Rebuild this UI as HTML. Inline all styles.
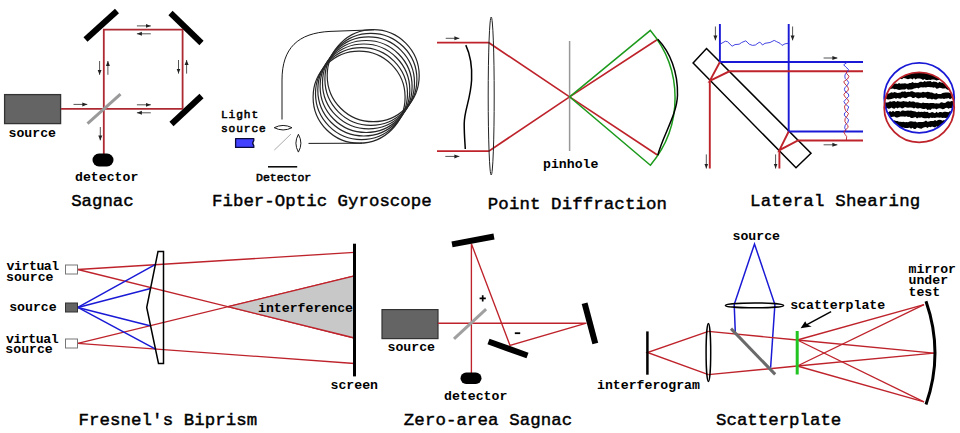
<!DOCTYPE html>
<html><head><meta charset="utf-8"><style>
html,body{margin:0;padding:0;background:#fff;width:960px;height:433px;overflow:hidden}
svg{display:block}
.t{font-family:"Liberation Mono",monospace;font-size:17.4px;fill:#000;stroke:#000;stroke-width:0.45px}
.l{font-family:"Liberation Mono",monospace;font-size:13.2px;font-weight:bold;fill:#000}
.s{font-family:"Liberation Mono",monospace;font-weight:normal;fill:#000;stroke:#000;stroke-width:0.55px}
.r{stroke:#be232b;stroke-width:1.35;fill:none}
.b{stroke:#1a1ad6;stroke-width:1.5;fill:none}
.m{stroke:#000;stroke-width:6;fill:none}
.ar{stroke:#555;stroke-width:1;fill:none}
</style></head><body>
<svg width="960" height="433" viewBox="0 0 960 433">
<defs>
<marker id="ah" viewBox="0 0 10 10" refX="10" refY="5" markerWidth="5" markerHeight="5" orient="auto-start-reverse" markerUnits="userSpaceOnUse">
<path d="M0,1 L10,5 L0,9 z" fill="#222"/></marker>
</defs>

<!-- ============ SAGNAC ============ -->
<g id="sagnac">
<rect x="4.6" y="94.6" width="56" height="29" fill="#646464" stroke="#333" stroke-width="1.3"/>
<path class="r" style="stroke-width:1.8;stroke:#ad2a33" d="M61,108.9 H182.6 V29.6 H103.8 V160"/>
<line x1="87.5" y1="123.6" x2="120.5" y2="94.2" stroke="#9a9a9a" stroke-width="3"/>
<line class="m" x1="85.5" y1="39.5" x2="117" y2="11"/>
<line class="m" x1="170.5" y1="13" x2="201.5" y2="43"/>
<line class="m" x1="201.5" y1="96" x2="171.5" y2="124"/>
<rect x="92.5" y="153.5" width="21" height="13" rx="6.5" fill="#000"/>
<!-- arrows -->
<line class="ar" x1="73.5" y1="104.4" x2="87.3" y2="104.4" marker-end="url(#ah)"/>
<line class="ar" x1="136.9" y1="25.9" x2="150.8" y2="25.9" marker-end="url(#ah)"/>
<line class="ar" x1="150.8" y1="33.8" x2="136.9" y2="33.8" marker-end="url(#ah)"/>
<line class="ar" x1="136.9" y1="104.8" x2="150.8" y2="104.8" marker-end="url(#ah)"/>
<line class="ar" x1="150.8" y1="112.8" x2="136.9" y2="112.8" marker-end="url(#ah)"/>
<line class="ar" x1="99.6" y1="61" x2="99.6" y2="74.8" marker-end="url(#ah)"/>
<line class="ar" x1="107.9" y1="74.8" x2="107.9" y2="61" marker-end="url(#ah)"/>
<line class="ar" x1="178.5" y1="60" x2="178.5" y2="73.6" marker-end="url(#ah)"/>
<line class="ar" x1="186.6" y1="73.6" x2="186.6" y2="60" marker-end="url(#ah)"/>
<line class="ar" x1="100.3" y1="127" x2="100.3" y2="140.4" marker-end="url(#ah)"/>
<text class="l" transform="translate(8.5,136.8) scale(1,1.0)">source</text>
<text class="l" transform="translate(75,181.2) scale(1,1.0)">detector</text>
<text class="t" x="71.2" y="206.3" textLength="62.5">Sagnac</text>
</g>

<!-- ============ FIBER OPTIC GYRO ============ -->
<g id="fog" fill="none" stroke="#1a1a1a" stroke-width="1">
<path d="M282,119.5 V80 C282,48 298,33 330,31.4 L374,29.8"/>
<line x1="308.5" y1="143.4" x2="362" y2="143.2"/>
<g id="coil" stroke="#262626" stroke-width="1.2">
<circle cx="359.1" cy="97.2" r="46"/>
<circle cx="361.5" cy="93.6" r="46"/>
<circle cx="363.8" cy="90.0" r="46"/>
<circle cx="366.1" cy="86.5" r="46"/>
<circle cx="368.5" cy="82.9" r="46"/>
<circle cx="370.9" cy="79.3" r="46"/>
<circle cx="373.2" cy="75.7" r="46"/>
</g>
<path d="M274.2,127.7 Q283.1,123.2 292,127.7 Q283.1,132.2 274.2,127.7 Z"/>
<path d="M298.4,134.3 Q303.4,143.2 298.4,152.1 Q293.4,143.2 298.4,134.3 Z"/>
<line x1="274.3" y1="150.1" x2="290.9" y2="134.1" stroke="#aaa"/>
<line x1="268" y1="166.8" x2="297.2" y2="166.8" stroke="#000" stroke-width="1.5"/>
</g>
<path d="M235.6,138.6 H253.8 V140.6 Q251.6,143 253.8,145.6 V147.4 H235.6 Z" fill="#4141ff" stroke="#0a0a3c" stroke-width="1.3" stroke-linejoin="round"/>
<text class="s" transform="translate(221,118.4) scale(1,0.95)" style="font-size:11.2px;letter-spacing:0.9px">Light</text>
<text class="s" transform="translate(221,131.7) scale(1,1)" style="font-size:11.2px;letter-spacing:0.9px">source</text>
<text class="s" transform="translate(256,181.3) scale(1,1)" style="font-size:11.5px">Detector</text>
<text class="t" x="212" y="206.3" textLength="219.7">Fiber-Optic Gyroscope</text>

<!-- ============ POINT DIFFRACTION ============ -->
<g id="pd">
<path class="r" style="stroke-width:1.7" d="M437,42.7 H488.8 L569.6,96.9 L657.8,155.2"/>
<path class="r" style="stroke-width:1.7" d="M437,151.1 H488.8 L569.6,96.9 L657.8,39.3"/>
<ellipse cx="491.2" cy="96" rx="3" ry="79" fill="none" stroke="#222" stroke-width="1"/>
<path d="M465.8,45.1 C470,54 472.3,66 471.6,80 C470.5,100 464.2,110 464.2,124 C464.2,135 465,143 465.3,149" fill="none" stroke="#000" stroke-width="1.5"/>
<line x1="569.6" y1="41" x2="569.6" y2="151" stroke="#999" stroke-width="1.5"/>
<path d="M569.6,96.8 L650.4,30.4 A104.4,104.4 0 0 1 650.4,165.2 Z" fill="none" stroke="#1c9a1c" stroke-width="1.5"/>
<path d="M657.8,39.3 C670,52 678,72 677.5,95 C677,115 663,135 657.8,155.2" fill="none" stroke="#000" stroke-width="1.5"/>
<line class="ar" x1="445.7" y1="38.3" x2="459.4" y2="38.3" marker-end="url(#ah)"/>
<line class="ar" x1="445.3" y1="156.4" x2="459.4" y2="156.4" marker-end="url(#ah)"/>
<text class="l" transform="translate(543,168.4) scale(1,1.0)">pinhole</text>
<text class="t" x="487.8" y="209.3" textLength="179.2">Point Diffraction</text>
</g>

<!-- ============ LATERAL SHEARING ============ -->
<g id="ls">
<polygon points="706.5,48.5 811,153.3 796,167.8 693.1,63" fill="none" stroke="#000" stroke-width="1.5"/>
<path class="b" style="stroke-width:1.9" d="M719.9,24 V62 H863"/>
<path class="b" style="stroke-width:1.9" d="M788.7,24 V131.5 H863"/>
<path class="r" style="stroke-width:1.9" d="M719.9,62 L709.8,80.9 L729.4,71.3 H863 M709.8,80.9 V168.5"/>
<path class="r" style="stroke-width:1.9" d="M788.7,131.5 L779.4,150.2 L798,140.5 H863 M779.4,150.2 V168.5"/>
<path d="M720.0,44.2 L725.4,41.2 L727.5,41.7 L732.1,46.2 L735.0,44.6 L739.2,44.2 L741.7,42.5 L745.8,40.8 L749.2,44.2 L752.5,45.4 L755.4,45.0 L759.2,42.3 L760.4,42.5 L762.5,45.0 L765.0,43.3 L770.0,42.5 L774.2,40.4 L776.7,41.7 L780.0,43.3 L782.1,45.4 L785.0,43.8 L788.3,43.3" fill="none" stroke="#3030e0" stroke-width="0.9"/>
<path d="M847.2,62.3 L843.7,64.8 L845.9,67.1 L848.5,69.5 L847.7,71.4 L845.4,74.1 L844.8,76.1 L845.2,78.4 L847.4,80.6 L848.7,82.6 L847.3,85.3 L844.8,87.8 L844.4,89.7 L845.7,92.0 L848.4,93.9 L848.8,96.2 L846.3,98.8 L843.9,101.6 L845.4,104.2 L848.8,106.9 L847.9,108.8 L847.3,110.8 L844.6,113.0 L844.3,115.1 L846.1,117.3 L848.6,119.7 L847.8,122.4 L845.2,125.1 L844.7,127.9 L846.3,131.5" fill="none" stroke="#3030e0" stroke-width="0.9"/>
<path d="M846.3,71.2 L846.7,73.7 L849.0,76.2 L847.5,79.0 L843.7,81.7 L845.0,84.0 L847.3,86.4 L848.4,88.3 L848.2,90.4 L845.0,92.8 L843.8,94.8 L845.5,97.5 L847.8,99.4 L848.7,101.4 L847.1,103.3 L844.6,106.0 L844.7,108.0 L845.6,110.7 L848.5,113.4 L847.3,115.9 L845.1,118.7 L844.9,121.4 L846.1,123.5 L847.7,125.5 L848.2,127.3 L845.6,129.8 L843.9,132.2 L845.0,134.3 L846.7,136.6 L846.3,140.2" fill="none" stroke="#be232b" stroke-width="0.9"/>
<line class="ar" x1="715.4" y1="26.5" x2="715.4" y2="40.4" marker-end="url(#ah)"/>
<line class="ar" x1="792.6" y1="26.5" x2="792.6" y2="40.4" marker-end="url(#ah)"/>
<line class="ar" x1="706.3" y1="154.4" x2="706.3" y2="168.5" marker-end="url(#ah)"/>
<line class="ar" x1="775.6" y1="154.4" x2="775.6" y2="168.5" marker-end="url(#ah)"/>
<line class="ar" x1="823.6" y1="58" x2="837.4" y2="58" marker-end="url(#ah)"/>
<line class="ar" x1="823.6" y1="144.8" x2="837.4" y2="144.8" marker-end="url(#ah)"/>
<clipPath id="lens"><circle cx="919.2" cy="97.8" r="35"/></clipPath>
<g clip-path="url(#lens)">
<clipPath id="lens2"><circle cx="919.2" cy="107.4" r="35"/></clipPath>
<g clip-path="url(#lens2)"><path fill="#000" d="M884.0,70.0L885.5,70.0L887.0,70.0L888.5,70.0L890.0,70.0L891.5,70.0L893.0,70.0L894.5,70.0L896.0,70.0L897.5,70.0L899.0,70.0L900.5,70.0L902.0,70.0L903.5,70.0L905.0,70.0L906.5,70.0L908.0,70.0L909.5,70.0L911.0,70.0L912.5,70.0L914.0,70.0L915.5,70.0L917.0,70.0L918.5,70.0L920.0,70.0L921.5,70.0L923.0,70.0L924.5,70.0L926.0,70.0L927.5,70.0L929.0,70.0L930.5,70.0L932.0,70.0L933.5,70.0L935.0,70.0L936.5,70.0L938.0,70.0L939.5,70.0L941.0,70.0L942.5,70.0L944.0,70.0L945.5,70.0L947.0,70.0L948.5,70.0L950.0,70.0L951.5,70.0L953.0,70.0L954.5,70.0L956.0,70.0L956.0,78.6L954.5,79.4L953.0,79.8L951.5,79.4L950.0,79.6L948.5,79.2L947.0,80.0L945.5,80.3L944.0,79.6L942.5,79.9L941.0,80.2L939.5,79.9L938.0,80.1L936.5,80.5L935.0,79.7L933.5,79.5L932.0,79.4L930.5,80.1L929.0,79.7L927.5,80.1L926.0,79.9L924.5,79.1L923.0,80.0L921.5,79.0L920.0,78.6L918.5,78.5L917.0,78.6L915.5,79.4L914.0,78.0L912.5,79.5L911.0,78.5L909.5,78.7L908.0,79.3L906.5,78.8L905.0,78.2L903.5,78.1L902.0,79.3L900.5,78.7L899.0,78.3L897.5,78.4L896.0,79.1L894.5,78.6L893.0,79.5L891.5,78.9L890.0,79.5L888.5,79.9L887.0,79.3L885.5,80.3L884.0,79.6ZM884.0,81.9L885.5,82.5L887.0,83.2L888.5,82.3L890.0,83.0L891.5,82.4L893.0,83.5L894.5,83.7L896.0,83.5L897.5,84.0L899.0,83.1L900.5,83.7L902.0,83.5L903.5,83.4L905.0,83.2L906.5,83.7L908.0,83.8L909.5,82.9L911.0,83.1L912.5,82.0L914.0,82.9L915.5,82.7L917.0,83.1L918.5,82.7L920.0,81.7L921.5,81.8L923.0,82.2L924.5,81.1L926.0,81.8L927.5,81.3L929.0,81.2L930.5,81.1L932.0,82.3L933.5,81.4L935.0,81.7L936.5,82.0L938.0,82.9L939.5,81.7L941.0,82.5L942.5,82.8L944.0,83.4L945.5,83.4L947.0,83.6L948.5,82.8L950.0,83.1L951.5,83.1L953.0,84.0L954.5,84.1L956.0,82.8L956.0,89.1L954.5,88.8L953.0,88.7L951.5,89.3L950.0,89.2L948.5,89.9L947.0,89.6L945.5,88.3L944.0,88.6L942.5,88.4L941.0,88.1L939.5,87.8L938.0,88.5L936.5,88.8L935.0,87.3L933.5,87.7L932.0,87.3L930.5,87.3L929.0,87.0L927.5,87.1L926.0,87.6L924.5,87.3L923.0,87.4L921.5,87.3L920.0,87.4L918.5,88.4L917.0,87.7L915.5,88.3L914.0,88.4L912.5,89.2L911.0,89.4L909.5,89.4L908.0,89.7L906.5,88.4L905.0,89.5L903.5,89.5L902.0,89.4L900.5,89.7L899.0,90.1L897.5,89.5L896.0,89.1L894.5,89.2L893.0,88.4L891.5,88.7L890.0,89.2L888.5,88.9L887.0,88.3L885.5,88.2L884.0,88.0ZM884.0,93.7L885.5,92.6L887.0,92.4L888.5,93.8L890.0,93.0L891.5,92.3L893.0,92.8L894.5,91.9L896.0,92.6L897.5,93.1L899.0,92.8L900.5,92.4L902.0,91.6L903.5,91.7L905.0,91.3L906.5,92.2L908.0,91.7L909.5,92.1L911.0,91.3L912.5,91.2L914.0,92.1L915.5,92.5L917.0,92.3L918.5,92.3L920.0,92.4L921.5,92.4L923.0,91.7L924.5,92.3L926.0,92.2L927.5,91.8L929.0,91.9L930.5,92.5L932.0,92.5L933.5,93.3L935.0,93.8L936.5,93.1L938.0,93.9L939.5,94.0L941.0,93.9L942.5,92.9L944.0,92.7L945.5,92.6L947.0,92.5L948.5,92.4L950.0,92.9L951.5,93.2L953.0,93.0L954.5,92.3L956.0,92.5L956.0,98.7L954.5,98.3L953.0,98.2L951.5,98.2L950.0,99.2L948.5,98.1L947.0,98.6L945.5,98.5L944.0,99.0L942.5,98.5L941.0,98.7L939.5,98.6L938.0,98.5L936.5,99.5L935.0,99.5L933.5,98.7L932.0,99.4L930.5,98.7L929.0,98.7L927.5,99.1L926.0,97.5L924.5,97.5L923.0,98.1L921.5,97.6L920.0,98.0L918.5,98.4L917.0,98.1L915.5,96.9L914.0,97.9L912.5,98.1L911.0,96.8L909.5,96.8L908.0,96.9L906.5,97.9L905.0,98.3L903.5,97.5L902.0,97.6L900.5,98.7L899.0,98.5L897.5,97.9L896.0,98.8L894.5,97.9L893.0,98.5L891.5,99.1L890.0,99.2L888.5,99.5L887.0,99.2L885.5,98.3L884.0,99.5ZM884.0,103.3L885.5,102.5L887.0,102.4L888.5,102.2L890.0,101.3L891.5,101.8L893.0,101.3L894.5,100.9L896.0,102.1L897.5,101.0L899.0,101.4L900.5,101.8L902.0,101.5L903.5,101.1L905.0,101.5L906.5,101.6L908.0,102.0L909.5,101.0L911.0,101.8L912.5,101.4L914.0,101.6L915.5,102.5L917.0,102.2L918.5,102.5L920.0,102.9L921.5,103.3L923.0,102.6L924.5,103.0L926.0,102.9L927.5,103.0L929.0,103.3L930.5,102.9L932.0,103.0L933.5,102.9L935.0,103.6L936.5,103.2L938.0,103.4L939.5,103.4L941.0,102.2L942.5,102.5L944.0,103.0L945.5,102.7L947.0,101.4L948.5,101.3L950.0,101.7L951.5,101.0L953.0,101.2L954.5,100.8L956.0,101.7L956.0,108.0L954.5,107.0L953.0,107.1L951.5,108.2L950.0,108.1L948.5,108.8L947.0,107.7L945.5,108.0L944.0,109.0L942.5,109.3L941.0,108.6L939.5,108.3L938.0,108.6L936.5,109.5L935.0,108.4L933.5,108.8L932.0,108.6L930.5,110.0L929.0,109.6L927.5,109.9L926.0,108.4L924.5,109.0L923.0,109.1L921.5,108.5L920.0,107.9L918.5,108.5L917.0,108.5L915.5,107.5L914.0,108.5L912.5,107.7L911.0,107.4L909.5,107.6L908.0,107.8L906.5,107.6L905.0,107.1L903.5,108.1L902.0,108.4L900.5,107.6L899.0,107.5L897.5,108.5L896.0,107.4L894.5,108.7L893.0,108.6L891.5,107.6L890.0,108.5L888.5,108.7L887.0,108.0L885.5,109.3L884.0,109.2ZM884.0,111.5L885.5,112.7L887.0,112.1L888.5,112.3L890.0,111.0L891.5,112.1L893.0,110.7L894.5,111.9L896.0,111.1L897.5,110.9L899.0,111.1L900.5,111.7L902.0,110.6L903.5,110.4L905.0,111.1L906.5,110.7L908.0,110.5L909.5,110.7L911.0,110.6L912.5,111.0L914.0,111.3L915.5,111.4L917.0,112.3L918.5,111.6L920.0,112.1L921.5,111.7L923.0,112.1L924.5,111.6L926.0,112.1L927.5,111.8L929.0,113.0L930.5,112.7L932.0,112.1L933.5,112.5L935.0,113.2L936.5,111.8L938.0,112.9L939.5,112.1L941.0,112.1L942.5,112.5L944.0,111.7L945.5,111.7L947.0,111.9L948.5,112.3L950.0,111.1L951.5,111.8L953.0,111.5L954.5,111.3L956.0,110.9L956.0,116.3L954.5,117.7L953.0,116.7L951.5,116.9L950.0,117.8L948.5,117.6L947.0,117.7L945.5,117.9L944.0,117.7L942.5,117.9L941.0,117.5L939.5,117.7L938.0,117.4L936.5,117.5L935.0,118.1L933.5,117.7L932.0,118.0L930.5,117.6L929.0,118.4L927.5,117.9L926.0,118.3L924.5,118.2L923.0,117.9L921.5,117.2L920.0,117.7L918.5,117.5L917.0,118.4L915.5,117.1L914.0,117.5L912.5,118.0L911.0,117.9L909.5,116.7L908.0,116.9L906.5,116.3L905.0,116.8L903.5,116.5L902.0,116.4L900.5,116.5L899.0,117.1L897.5,117.5L896.0,117.5L894.5,116.4L893.0,116.7L891.5,116.9L890.0,117.8L888.5,116.9L887.0,117.1L885.5,117.1L884.0,117.7ZM884.0,120.6L885.5,119.7L887.0,120.9L888.5,121.1L890.0,120.7L891.5,120.9L893.0,121.2L894.5,120.2L896.0,120.9L897.5,121.0L899.0,121.7L900.5,121.8L902.0,121.9L903.5,121.7L905.0,122.3L906.5,122.0L908.0,122.2L909.5,121.5L911.0,121.2L912.5,121.4L914.0,121.8L915.5,121.4L917.0,122.5L918.5,122.0L920.0,122.0L921.5,121.9L923.0,121.9L924.5,121.5L926.0,120.6L927.5,121.7L929.0,121.5L930.5,121.0L932.0,120.9L933.5,121.0L935.0,119.9L936.5,120.9L938.0,120.1L939.5,119.8L941.0,120.0L942.5,120.8L944.0,119.9L945.5,120.8L947.0,121.3L948.5,120.6L950.0,120.5L951.5,120.8L953.0,121.2L954.5,121.5L956.0,121.4L956.0,126.8L954.5,126.9L953.0,127.0L951.5,127.0L950.0,126.1L948.5,126.0L947.0,126.7L945.5,127.3L944.0,126.2L942.5,126.9L941.0,127.2L939.5,126.6L938.0,127.2L936.5,126.2L935.0,127.6L933.5,127.0L932.0,126.5L930.5,127.3L929.0,126.8L927.5,128.1L926.0,127.1L924.5,127.3L923.0,127.7L921.5,128.7L920.0,128.5L918.5,128.0L917.0,127.4L915.5,128.9L914.0,129.0L912.5,127.7L911.0,128.8L909.5,127.5L908.0,128.0L906.5,127.9L905.0,127.9L903.5,127.4L902.0,127.9L900.5,127.8L899.0,127.6L897.5,126.8L896.0,126.4L894.5,126.2L893.0,127.0L891.5,126.5L890.0,127.1L888.5,126.3L887.0,126.0L885.5,125.9L884.0,126.8Z"/></g>
</g>
<circle cx="919.2" cy="97.8" r="35" fill="none" stroke="#1a1ad6" stroke-width="1.8"/>
<circle cx="919.2" cy="107.4" r="35" fill="none" stroke="#be232b" stroke-width="1.8"/>
<text class="t" x="750" y="206.3" textLength="170.3">Lateral Shearing</text>
</g>

<!-- ============ FRESNEL ============ -->
<g id="fr">
<g class="r">
<line x1="77.8" y1="269.5" x2="354.5" y2="252.4"/>
<line x1="77.8" y1="269.5" x2="354.5" y2="338"/>
<line x1="77.8" y1="343.3" x2="354.5" y2="275.9"/>
<line x1="77.8" y1="343.3" x2="354.5" y2="363.5"/>
</g>
<polygon points="228,306.7 354.5,275.9 354.5,338" fill="#c8c8c8"/>
<g class="r">
<line x1="228" y1="306.7" x2="354.5" y2="275.9"/>
<line x1="228" y1="306.7" x2="354.5" y2="338"/>
</g>
<g class="b">
<line x1="77.8" y1="307.4" x2="156" y2="264.2"/>
<line x1="77.8" y1="307.4" x2="150.6" y2="288.5"/>
<line x1="77.8" y1="307.4" x2="149.9" y2="325.7"/>
<line x1="77.8" y1="307.4" x2="156" y2="349.3"/>
</g>
<polygon points="158,251.5 163.5,251.5 163.5,363.5 158.5,363.5 146.7,307.5" fill="none" stroke="#000" stroke-width="1.5"/>
<rect x="65.5" y="265" width="12" height="9" fill="#fff" stroke="#777" stroke-width="1"/>
<rect x="65.5" y="303" width="12" height="9" fill="#646464" stroke="#333" stroke-width="1"/>
<rect x="65.5" y="339" width="12" height="9" fill="#fff" stroke="#777" stroke-width="1"/>
<line x1="354.5" y1="243.7" x2="354.5" y2="376.4" stroke="#000" stroke-width="3"/>
<text class="l" textLength="52.6" lengthAdjust="spacing" transform="translate(6.6,269.9) scale(1,1.0)">virtual</text>
<text class="l" transform="translate(6,280.7) scale(1,1.0)">source</text>
<text class="l" transform="translate(9.2,310.8) scale(1,1.0)">source</text>
<text class="l" textLength="52.6" lengthAdjust="spacing" transform="translate(6,343) scale(1,1.0)">virtual</text>
<text class="l" transform="translate(5.3,352.9) scale(1,1.0)">source</text>
<text class="l" transform="translate(258,311.8) scale(1,1.0)">interference</text>
<text class="l" transform="translate(330.5,389.4) scale(1,1.0)">screen</text>
<text class="t" x="78.5" y="425" textLength="178.7">Fresnel's Biprism</text>
</g>

<!-- ============ ZERO AREA SAGNAC ============ -->
<g id="za">
<rect x="382" y="309.6" width="56" height="29" fill="#646464" stroke="#333" stroke-width="1.2"/>
<path class="r" d="M438,323.2 H586.4 L510,345.5 L471.4,243.7 V374"/>
<line x1="454" y1="338.8" x2="486.1" y2="309.2" stroke="#a0a0a0" stroke-width="3"/>
<line class="m" x1="452" y1="244.4" x2="494" y2="236.5"/>
<line class="m" x1="488.5" y1="341.5" x2="527.5" y2="355.5"/>
<line class="m" x1="584.6" y1="303.2" x2="595.3" y2="343.4"/>
<rect x="460.5" y="372.5" width="21" height="11.5" rx="5.7" fill="#000"/>
<path d="M479.6,298.3 h6.2 M482.7,295.2 v6.2" stroke="#000" stroke-width="1.7"/>
<path d="M514.8,333.2 h5.4" stroke="#000" stroke-width="1.8"/>
<text class="l" transform="translate(387.5,351) scale(1,1.0)">source</text>
<text class="l" transform="translate(444,400.4) scale(1,1.0)">detector</text>
<text class="t" x="403.8" y="425" textLength="168.5">Zero-area Sagnac</text>
</g>

<!-- ============ SCATTERPLATE ============ -->
<g id="sp">
<path class="b" d="M735.3,332.2 L734.2,304.5 L754.5,244 L774.9,304.5 L770.6,367.8"/>
<g class="r">
<path d="M708.4,331.4 L647.4,352.5 L708.4,374.7"/>
<line x1="708.4" y1="331.4" x2="797.3" y2="340"/>
<line x1="708.4" y1="374.7" x2="797.3" y2="366"/>
<line x1="797.3" y1="340" x2="924" y2="304.7"/>
<line x1="797.3" y1="340" x2="934" y2="353.1"/>
<line x1="797.3" y1="340" x2="924" y2="401.8"/>
<line x1="797.3" y1="366" x2="924" y2="304.7"/>
<line x1="797.3" y1="366" x2="934" y2="353.1"/>
<line x1="797.3" y1="366" x2="924" y2="401.8"/>
</g>
<line x1="731" y1="328.6" x2="775.2" y2="374.4" stroke="#6a6a6a" stroke-width="3"/>
<ellipse cx="754.5" cy="305.4" rx="29.1" ry="2.4" fill="none" stroke="#000" stroke-width="1.5"/>
<ellipse cx="708.4" cy="352.5" rx="2.3" ry="29" fill="none" stroke="#000" stroke-width="1.5"/>
<line x1="647.4" y1="331.4" x2="647.4" y2="374.7" stroke="#000" stroke-width="2.5"/>
<line x1="797.2" y1="331" x2="797.2" y2="374.5" stroke="#22c422" stroke-width="3"/>
<path d="M926,301.2 Q944,353 926,404.6" fill="none" stroke="#000" stroke-width="3"/>
<line x1="831.1" y1="311.6" x2="806" y2="325.2" stroke="#000" stroke-width="1.5"/><polygon points="800.6,328.2 811.7,326.6 807,324.6 805.2,321.2" fill="#000"/>
<text class="l" transform="translate(732.5,240.1) scale(1,1.0)">source</text>
<text class="l" transform="translate(790.2,308.8) scale(1,1.0)">scatterplate</text>
<text class="l" transform="translate(908.5,272.6) scale(1,1.0)">mirror</text>
<text class="l" transform="translate(908.5,284.4) scale(1,1.0)">under</text>
<text class="l" transform="translate(908.5,296) scale(1,1.0)">test</text>
<text class="l" transform="translate(597,389) scale(1,1.0)">interferogram</text>
<text class="t" x="716" y="425" textLength="125.3">Scatterplate</text>
</g>
</svg>
</body></html>
